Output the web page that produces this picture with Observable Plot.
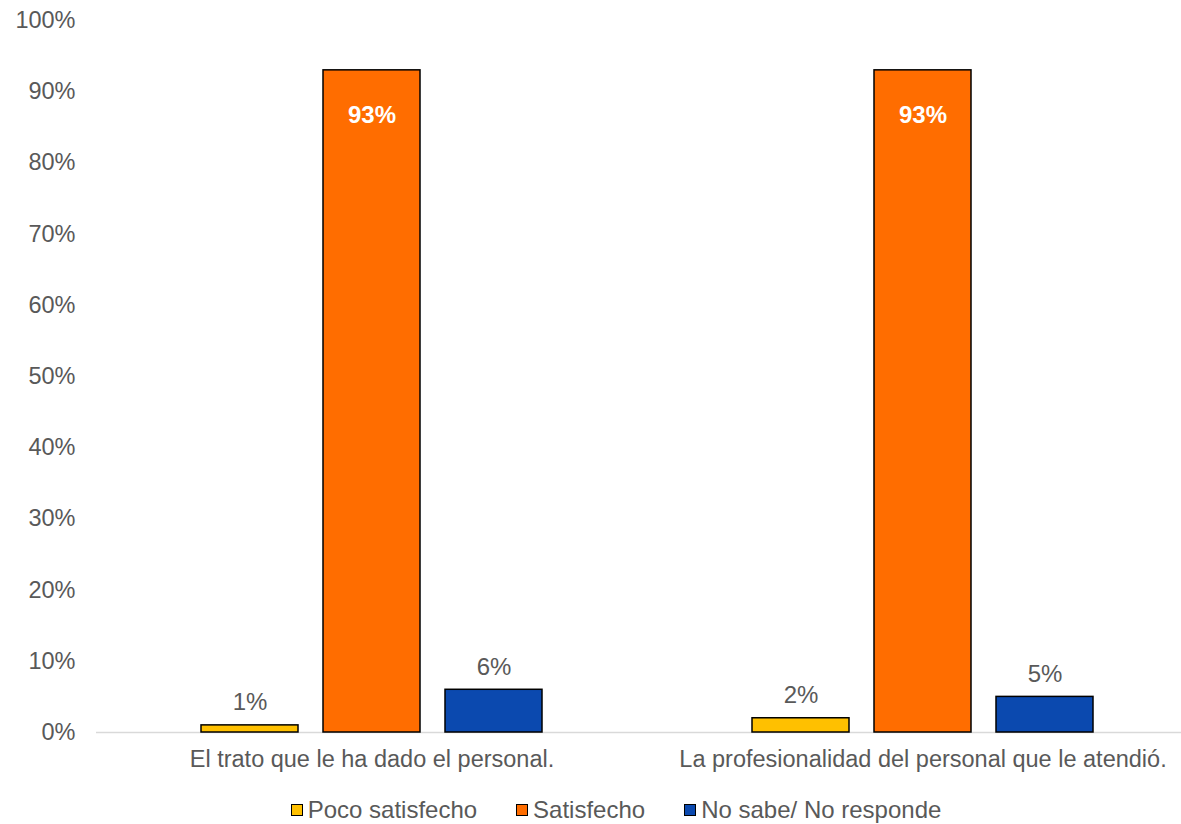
<!DOCTYPE html>
<html>
<head>
<meta charset="utf-8">
<script src="https://cdn.jsdelivr.net/npm/d3@7"></script>
<script src="https://cdn.jsdelivr.net/npm/@observablehq/plot@0.6"></script>
<style>
  html, body { margin: 0; padding: 0; background: #fff; }
  body { width: 1181px; font-family: "Liberation Sans", Arial, sans-serif; color: #595959; }
  #legend { display: flex; justify-content: center; align-items: center; gap: 39px; font-size: 24px; line-height: 28px; padding-top: 6px; padding-left: 51px; }
  #legend .item { display: flex; align-items: center; }
  #legend .sw { width: 10px; height: 10px; border: 1.5px solid #000; margin-right: 5px; }
</style>
</head>
<body>
<div id="chart"></div>
<div id="legend"></div>
<script>
const categories = ["El trato que le ha dado el personal.", "La profesionalidad del personal que le atendió."];
const series = ["Poco satisfecho", "Satisfecho", "No sabe/ No responde"];
const pocoSatisfecho = [0.01, 0.02];
const satisfecho = [0.93, 0.93];
const noSabe = [0.06, 0.05];
const colors = ["#FFC000", "#FF6D00", "#0B49AF"];
const yTicks = [0, 0.1, 0.2, 0.3, 0.4, 0.5, 0.6, 0.7, 0.8, 0.9, 1.0];

const valuesBySeries = [pocoSatisfecho, satisfecho, noSabe];
const data = [];
categories.forEach((c, i) => {
  series.forEach((s, j) => {
    data.push({category: c, series: s, value: valuesBySeries[j][i]});
  });
});
const fmt = d => Math.round(d * 100) + "%";

const chart = Plot.plot({
  width: 1181,
  height: 790,
  marginLeft: 95,
  marginRight: -17,
  marginTop: 20,
  marginBottom: 58,
  style: {fontFamily: "'Liberation Sans', Arial, sans-serif", fontSize: "23.5px", color: "#595959", background: "#fff"},
  fx: {domain: categories, padding: 0, label: null, axis: "bottom", tickSize: 0, tickPadding: 18},
  x: {domain: series, axis: null, paddingInner: 0.205, paddingOuter: 0.86},
  y: {domain: [0, 1], ticks: yTicks, tickFormat: fmt, tickSize: 0, tickPadding: 21, label: null, grid: false},
  color: {domain: series, range: colors},
  marks: [
    Plot.ruleY([0], {stroke: "#d9d9d9", strokeWidth: 1.5}),
    Plot.barY(data, {fx: "category", x: "series", y: "value", fill: "series", stroke: "#000", strokeWidth: 1.5}),
    Plot.text(data.filter(d => d.series !== "Satisfecho"), {fx: "category", x: "series", y: "value", text: d => fmt(d.value), lineAnchor: "bottom", dy: -15, fill: "#595959", fontSize: 24}),
    Plot.text(data.filter(d => d.series === "Satisfecho"), {fx: "category", x: "series", y: "value", text: d => fmt(d.value), lineAnchor: "top", dy: 36, fill: "#fff", fontSize: 24, fontWeight: "bold"})
  ]
});
document.getElementById("chart").appendChild(chart);

const legend = document.getElementById("legend");
series.forEach((s, i) => {
  const item = document.createElement("div");
  item.className = "item";
  const sw = document.createElement("span");
  sw.className = "sw";
  sw.style.background = colors[i];
  const t = document.createElement("span");
  t.textContent = s;
  item.appendChild(sw);
  item.appendChild(t);
  legend.appendChild(item);
});
</script>
</body>
</html>
